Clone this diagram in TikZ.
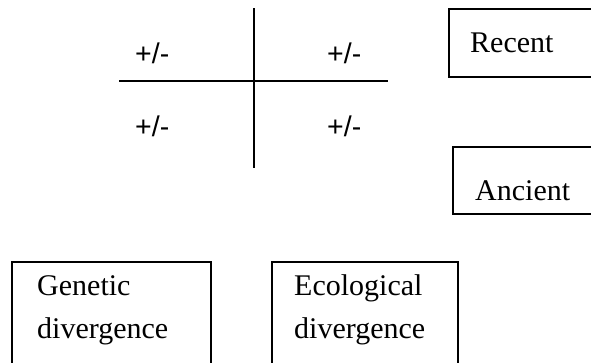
\documentclass[tikz,border=0pt]{standalone}
\usepackage{fontspec}
\setmainfont{Liberation Serif}
\newfontfamily\arialfont{Liberation Sans}
\begin{document}
\begin{tikzpicture}[x=1pt,y=-1pt,
  boxline/.style={draw=black,line width=2pt},
  crossline/.style={draw=black,line width=2pt},
  serif/.style={anchor=base west,inner sep=0pt,font=\fontsize{30}{36}\selectfont},
  pm/.style={anchor=base west,inner sep=0pt,font=\arialfont\fontsize{28.5}{34}\selectfont}]
\useasboundingbox (0,0) rectangle (591,362);
\clip (0,0) rectangle (591,362);
% cross
\coordinate (vtop) at (254,8);
\coordinate (vbot) at (254,168);
\coordinate (hleft) at (119,80.5);
\coordinate (hright) at (388,80.5);
\draw[crossline] (vtop) -- (vbot);
\draw[crossline] (hleft) -- (hright);
\node[pm] (pm1) at (135,63) {+/-};
\node[pm] (pm2) at (327,63) {+/-};
\node[pm] (pm3) at (135,136) {+/-};
\node[pm] (pm4) at (327,136) {+/-};
% right boxes
\draw[boxline] (449,9) rectangle (620,77);
\node[serif] (recent) at (470,52) {Recent};
\draw[boxline] (453,147) rectangle (620,214);
\node[serif] (ancient) at (475,200) {Ancient};
% bottom boxes
\draw[boxline] (12,262) rectangle (210.5,380);
\node[serif] (gen1) at (37,295) {Genetic};
\node[serif] (gen2) at (37,338) {divergence};
\draw[boxline] (271.5,262) rectangle (458,380);
\node[serif] (eco1) at (294,295) {Ecological};
\node[serif] (eco2) at (294,338) {divergence};
\end{tikzpicture}
\end{document}
